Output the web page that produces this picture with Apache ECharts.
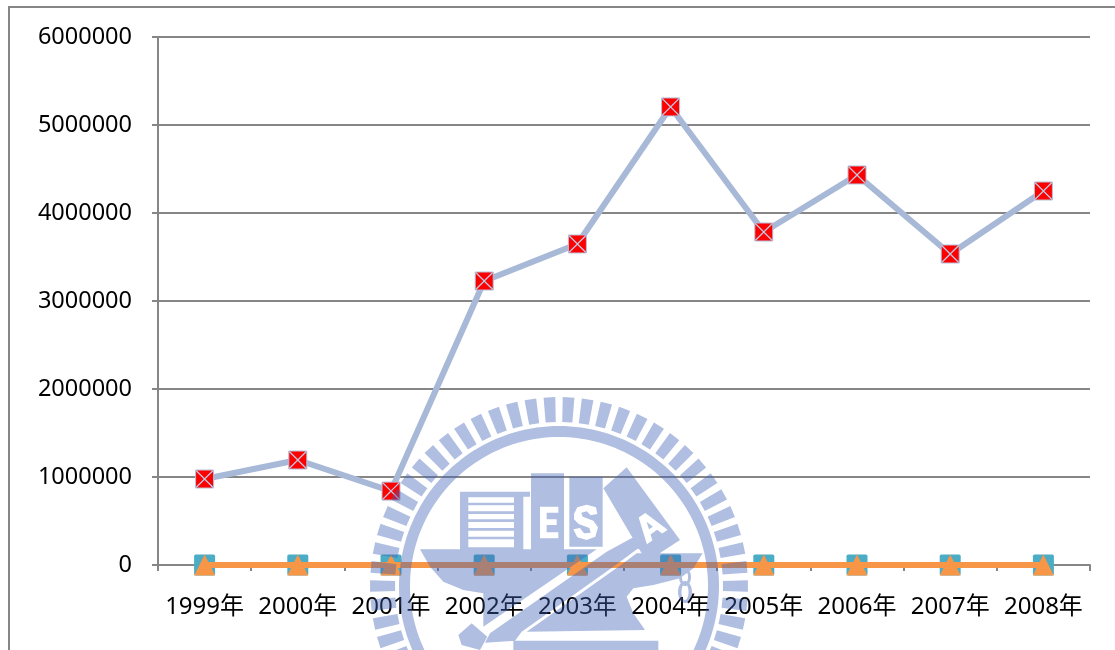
<!DOCTYPE html>
<html><head><meta charset="utf-8">
<style>html,body{margin:0;padding:0;background:#fff}#c{width:1115px;height:650px}</style>
<script src="https://cdn.jsdelivr.net/npm/echarts@6/dist/echarts.min.js"></script>
</head><body><div id="c"></div>
<script>
const categories = ['1999年','2000年','2001年','2002年','2003年','2004年','2005年','2006年','2007年','2008年'];
const mainValues = [977000,1193000,840000,3227000,3648000,5205000,3784000,4432000,3534000,4250000];
const tealValues = [0,0,0,0,0,0,0,0,0,0];
const orangeValues = [0,0,0,0,0,0,0,0,0,0];
const yTicks = {min:0,max:6000000,interval:1000000};

const FONT = '"Noto Sans","Noto Sans CJK TC",sans-serif';
const GRAY = '#868686';
const X_PATH = 'path://M0,5 L5,0 L50,45 L95,0 L100,5 L55,50 L100,95 L95,100 L50,55 L5,100 L0,95 L45,50 Z';
const SQ_PATH = 'path://M8,0 L92,0 Q100,0 100,8 L100,92 Q100,100 92,100 L8,100 Q0,100 0,92 L0,8 Q0,0 8,0 Z';

/* Watermark emblem (decoration, not data) */
const polys = [];
function add(pts, hole){
  let a = 0;
  for(let i=0;i<pts.length;i++){const p=pts[i],q=pts[(i+1)%pts.length];a+=p[0]*q[1]-q[0]*p[1];}
  const want = hole ? a<0 : a>0;
  polys.push(want ? pts : pts.slice().reverse());
}
const z3 = a => a.map(p=>[360+p[0]/3,390+p[1]/3]);
const z5 = a => a.map(p=>[400+p[0]/3,530+p[1]/3]);
const rect3 = (x0,y0,x1,y1)=>z3([[x0,y0],[x1,y0],[x1,y1],[x0,y1]]);
const CX=559, CY=586;
function circle(r,cx=CX,cy=CY,ry=r){const o=[];for(let i=0;i<180;i++){const t=i/180*Math.PI*2;o.push([cx+r*Math.cos(t),cy+ry*Math.sin(t)]);}return o;}
for(let i=0;i<62;i++){
  const t=(i+0.5)/62*Math.PI*2-Math.PI/2, hw=0.031;
  const q=(r,d)=>[CX+r*Math.cos(t+d),CY+r*Math.sin(t+d)];
  add([q(164,-hw),q(189,-hw),q(189,hw),q(164,hw)]);
}
add(circle(160)); add(circle(149),true);
// book stack
add(rect3(300,305,490,480));
add(rect3(490,305,510,320));
[[322,338],[346,364],[372,388],[396,414],[422,440],[448,472]].forEach(s=>add(rect3(325,s[0],462,s[1]),true));
// tall book with E
add(rect3(513,250,612,480));
add(z3([[540,350],[595,350],[595,368],[560,368],[560,388],[590,388],[590,405],[560,405],[560,427],[595,427],[595,445],[540,445]]),true);
// book with S
add(rect3(628,260,728,470));
add(z3([[642,372],[652,352],[680,344],[708,352],[712,372],[692,376],[680,364],[664,368],[668,380],[700,392],[714,412],[706,440],[680,450],[652,442],[640,418],[660,414],[672,430],[692,428],[688,414],[656,402],[642,388]]),true);
// hammer head with A
add(z3([[800,232],[960,450],[860,515],[730,295]]));
const th=-35*Math.PI/180, rot=(x,y)=>[870+x*Math.cos(th)-y*Math.sin(th),410+x*Math.sin(th)+y*Math.cos(th)];
add(z3([rot(-38,38),rot(-12,-42),rot(12,-42),rot(38,38),rot(18,38),rot(12,20),rot(-12,20),rot(-18,38)]),true);
add(z3([rot(-7,5),rot(0,-18),rot(7,5)]));
// anvil left part + horn
add(z5([[60,58],[590,58],[250,290],[250,190],[190,180],[130,155],[90,110]]));
// hook
add(z5([[215,280],[262,320],[240,360],[185,345],[175,315]]));
// handle
add(z5([[620,65],[700,22],[735,40],[640,110],[365,305],[345,332],[255,338],[270,310]]));
// anvil right part
add(z5([[380,305],[670,100],[710,70],[908,70],[880,115],[840,145],[760,165],[700,175],[680,200],[700,250],[735,300]]));
// base
add(z5([[340,332],[775,332],[775,362],[340,362]]));
// chain
add(circle(6,685,577,9)); add(circle(3,685,577,6),true);
add(circle(7,685,592,11)); add(circle(3.5,685,592,8),true);

echarts.graphic.registerShape('emblem', echarts.graphic.extendShape({
  shape:{},
  buildPath(ctx){
    polys.forEach(P=>{
      ctx.moveTo(P[0][0],P[0][1]);
      for(let i=1;i<P.length;i++) ctx.lineTo(P[i][0],P[i][1]);
      ctx.closePath();
    });
  }
}));

const chart = echarts.init(document.getElementById('c'),null,{renderer:'canvas'});
chart.setOption({
  animation:false,
  backgroundColor:'#ffffff',
  grid:{left:158,right:25,top:37,bottom:85,containLabel:false},
  xAxis:{type:'category',data:categories,boundaryGap:true,
    axisLine:{lineStyle:{color:GRAY,width:2}},
    axisTick:{show:true,length:6,alignWithLabel:false,lineStyle:{color:GRAY,width:2}},
    axisLabel:{color:'#000',fontFamily:FONT,fontSize:24,margin:30,interval:0},
    splitLine:{show:false}},
  yAxis:{type:'value',min:yTicks.min,max:yTicks.max,interval:yTicks.interval,
    axisLine:{show:true,lineStyle:{color:GRAY,width:2}},
    axisTick:{show:true,length:6,lineStyle:{color:GRAY,width:2}},
    axisLabel:{color:'#000',fontFamily:FONT,fontSize:23.5,margin:26,formatter:v=>String(v)},
    splitLine:{show:true,lineStyle:{color:GRAY,width:2}}},
  series:[
    {name:'main',type:'line',data:mainValues,z:3,symbol:'rect',symbolSize:18,showAllSymbol:true,
      lineStyle:{color:'#a7b9d7',width:6},
      itemStyle:{color:'#ff0000',borderColor:'#b4c1dc',borderWidth:1}},
    {name:'mainCross',type:'line',data:mainValues,z:4,symbol:X_PATH,symbolSize:18,showAllSymbol:true,
      lineStyle:{width:0,opacity:0},itemStyle:{color:'#bcc8e2'}},
    {name:'teal',type:'line',data:tealValues,z:5,symbol:SQ_PATH,symbolSize:21,showAllSymbol:true,
      lineStyle:{color:'#4bacc6',width:6},itemStyle:{color:'#4bacc6'}},
    {name:'orange',type:'line',data:orangeValues,z:6,symbol:'triangle',symbolSize:21,showAllSymbol:true,
      lineStyle:{color:'#f79646',width:6},itemStyle:{color:'#f79646'}}
  ],
  graphic:{elements:[
    {type:'polyline',z:50,silent:true,shape:{points:[[9,650],[9,7],[1115,7]]},
      style:{stroke:GRAY,lineWidth:2,fill:null}},
    {type:'emblem',z:100,silent:true,shape:{},style:{fill:'#3d61b7',opacity:0.41}}
  ]}
});
</script></body></html>
